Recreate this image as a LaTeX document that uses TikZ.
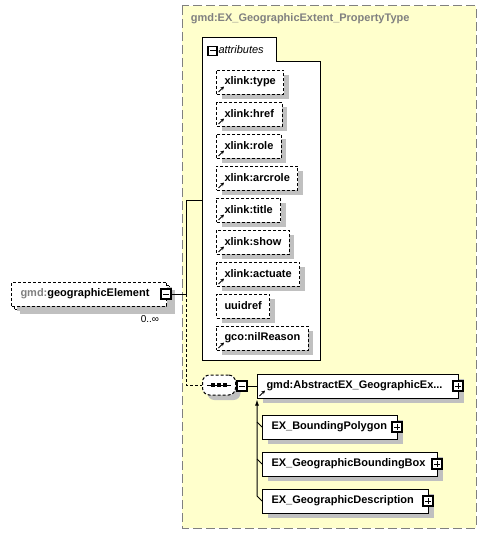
\documentclass[tikz,border=0pt]{standalone}
\usepackage{fontspec}
\setmainfont{Liberation Sans}
\usetikzlibrary{arrows.meta,shadows}
\definecolor{paleyellow}{RGB}{255,255,204}
\definecolor{shadowgray}{RGB}{192,192,192}
\definecolor{framegray}{RGB}{128,128,128}
\begin{document}
\begin{tikzpicture}[x=1pt,y=-1pt,line width=1pt,
  lbl/.style={font=\fontsize{11}{13}\selectfont\bfseries},
  shade/.style={drop shadow={shadow xshift=5pt,shadow yshift=-5pt,fill=shadowgray,opacity=1}},
  icon/.style={path picture={\draw[solid,line width=0.9pt,-{Stealth[length=3.5pt,width=3.5pt]}]
      ([shift={(2pt,2pt)}]path picture bounding box.south west) -- ++(5.5pt,5.5pt);}},
  attr/.style={lbl,draw,dash pattern=on 3pt off 2pt,fill=white,shade,
      minimum height=24pt,inner xsep=8pt,anchor=west},
  elem/.style={lbl,draw,fill=white,shade,minimum height=24pt,inner xsep=9pt,
      align=left,anchor=west},
  minusbox/.style={draw,fill=white,solid,line width=1.2pt,minimum size=10pt,inner sep=0pt,
      path picture={\draw[line width=1pt] ([xshift=2pt]path picture bounding box.west) -- ++(6pt,0pt);}},
  plusbox/.style={minusbox,
      path picture={\draw[line width=1pt] ([xshift=2pt]path picture bounding box.west) -- ++(6pt,0pt)
                          ([yshift=-2pt]path picture bounding box.north) -- ++(0pt,-6pt);}}]
\useasboundingbox (0,0) rectangle (487,535);
% property type area
\draw[framegray,fill=paleyellow,dash pattern=on 9pt off 4pt] (182,6) rectangle (476,528);
\node[lbl,text=framegray,anchor=west] (ptype) at (187,19) {gmd:EX\_GeographicExtent\_PropertyType};
% attributes
\draw[fill=white] (202,38) -- (276,38) -- (276,62) -- (320,62) -- (320,360) -- (202,360) -- cycle;
\node[minusbox,minimum size=9pt] (amin) at (212.5,51) {};
\node[font=\fontsize{11}{13}\selectfont\itshape,anchor=west,inner sep=1pt] (atitle) at (217,50) {attributes};
\node[attr,icon] (xtype) at (216,82) {xlink:type};
\node[attr,icon] (xhref) at (216,114) {xlink:href};
\node[attr,icon] (xrole) at (216,146) {xlink:role};
\node[attr,icon] (xarcrole) at (216,178) {xlink:arcrole};
\node[attr,icon] (xtitle) at (216,210) {xlink:title};
\node[attr,icon] (xshow) at (216,242) {xlink:show};
\node[attr,icon] (xactuate) at (216,274) {xlink:actuate};
\node[attr] (uuidref) at (216,306) {uuidref};
\node[attr,icon] (nilreason) at (216,338) {gco:nilReason};
% element
\node[elem,dash pattern=on 3pt off 2pt,text width=137pt] (elemback) at (14,297) {};
\node[elem,dash pattern=on 3pt off 2pt,text width=137pt,drop shadow={opacity=0}] (elem) at (11,294)
  {\textcolor{framegray}{gmd:}geographicElement};
\node[minusbox] (emin) at (166,294) {};
\node[font=\fontsize{10}{12}\selectfont] (occ) at (150,319) {0..∞};
% sequence
\node[draw,dash pattern=on 3pt off 2pt,fill=white,shade,rounded corners=7pt,
  minimum width=33pt,minimum height=20pt] (seq) at (219,385) {};
\draw ([xshift=-12pt]seq.center) -- ([xshift=12pt]seq.center);
\foreach \d in {-6,0,6}
  \fill ([xshift=\d pt]seq.center) +(-1.6,-1.6) rectangle +(1.6,1.6);
\node[minusbox] (seqmin) at (242,386) {};
\node[elem,icon,text width=183pt] (abs) at (257,386) {gmd:AbstractEX\_GeographicEx...};
\node[plusbox] (absplus) at (458,386) {};
% substitutions
\node[elem,text width=117pt] (poly) at (262,427) {EX\_BoundingPolygon};
\node[plusbox] (polyplus) at (397,427) {};
\node[elem,text width=157pt] (bbox) at (262,464) {EX\_GeographicBoundingBox};
\node[plusbox] (bboxplus) at (437,464) {};
\node[elem,text width=148pt] (descr) at (262,501) {EX\_GeographicDescription};
\node[plusbox] (descrplus) at (428,501) {};
% connectors
\coordinate (fork) at (186,294);
\coordinate (attin) at (202,200);
\draw (emin) -- (fork) |- (attin);
\draw[dash pattern=on 3pt off 2pt] (fork) |- (seq);
\draw (seqmin) -- (abs);
\draw[-{Latex[length=6pt,width=4pt]}] (descr.west) -- ++(-5,-5) -- ([yshift=-1pt]abs.south west);
\draw (poly.west) -- ++(-5,-5);
\draw (bbox.west) -- ++(-5,-5);
\end{tikzpicture}
\end{document}
